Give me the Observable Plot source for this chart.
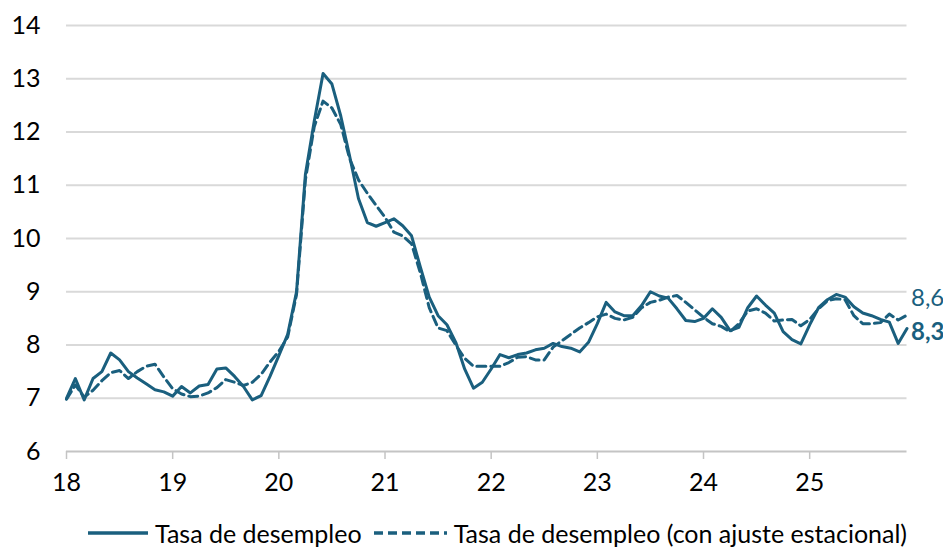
<!DOCTYPE html>
<html>
<head>
<meta charset="utf-8">
<script src="https://cdn.jsdelivr.net/npm/d3@7"></script>
<script src="https://cdn.jsdelivr.net/npm/@observablehq/plot@0.6"></script>
<style>
  html, body { margin: 0; padding: 0; background: #fff; }
  body { width: 943px; height: 550px; position: relative; overflow: hidden; font-family: Lato, "Open Sans", sans-serif; }
  #chart { position: absolute; left: 0; top: 0; }
  #legend { position: absolute; left: 26px; top: 519px; width: 943px; height: 28px; line-height: 28px; display: flex; justify-content: center; align-items: center; font-size: 25px; color: #000; white-space: nowrap; }
  #legend .item { display: flex; align-items: center; }
  #legend svg { margin-right: 7px; }
  #legend .item + .item { margin-left: 12px; }
</style>
</head>
<body>
<div id="chart"></div>
<div id="legend"></div>
<script>
// Monthly series, Jan 2018 (18) to Dec 2025
const startYear = 18;
const seriesNames = ["Tasa de desempleo", "Tasa de desempleo (con ajuste estacional)"];
const desempleo = [
  7.00, 7.37, 6.97, 7.37, 7.50, 7.85, 7.72, 7.50, 7.38, 7.27, 7.16, 7.12,
  7.04, 7.22, 7.10, 7.23, 7.26, 7.55, 7.57, 7.41, 7.22, 6.97, 7.05, 7.41,
  7.80, 8.20, 9.00, 11.20, 12.20, 13.10, 12.90, 12.30, 11.55, 10.75, 10.30, 10.23,
  10.30, 10.37, 10.24, 10.05, 9.46, 8.90, 8.55, 8.38, 8.05, 7.55, 7.19, 7.30,
  7.55, 7.82, 7.76, 7.82, 7.85, 7.91, 7.94, 8.03, 7.97, 7.94, 7.87, 8.05,
  8.40, 8.80, 8.62, 8.55, 8.55, 8.74, 9.00, 8.92, 8.88, 8.68, 8.46, 8.44,
  8.50, 8.68, 8.52, 8.27, 8.33, 8.70, 8.92, 8.75, 8.60, 8.25, 8.10, 8.02,
  8.38, 8.70, 8.85, 8.95, 8.90, 8.72, 8.60, 8.55, 8.48, 8.43, 8.03, 8.31
];
const desempleoSA = [
  6.98, 7.25, 7.02, 7.15, 7.33, 7.48, 7.52, 7.37, 7.50, 7.60, 7.64, 7.40,
  7.18, 7.08, 7.03, 7.04, 7.10, 7.20, 7.35, 7.30, 7.24, 7.30, 7.45, 7.68,
  7.88, 8.15, 8.95, 11.10, 12.10, 12.58, 12.45, 12.14, 11.50, 11.10, 10.85, 10.62,
  10.40, 10.12, 10.05, 9.90, 9.35, 8.70, 8.32, 8.27, 8.00, 7.75, 7.60, 7.60,
  7.60, 7.60, 7.67, 7.77, 7.78, 7.72, 7.72, 7.96, 8.08, 8.20, 8.32, 8.42,
  8.53, 8.58, 8.50, 8.47, 8.52, 8.70, 8.80, 8.84, 8.90, 8.93, 8.80, 8.66,
  8.52, 8.40, 8.35, 8.25, 8.40, 8.64, 8.68, 8.60, 8.45, 8.47, 8.48, 8.36,
  8.48, 8.68, 8.83, 8.87, 8.85, 8.55, 8.40, 8.40, 8.42, 8.58, 8.47, 8.56
];
const yTicks = [6, 7, 8, 9, 10, 11, 12, 13, 14];
const xTicks = [18, 19, 20, 21, 22, 23, 24, 25];
const lastLabels = ["8,3", "8,6"];

const color = "#1a5f7e";
const t = desempleo.map((_, i) => startYear + i / 12);
const solid = desempleo.map((v, i) => ({t: t[i], v}));
const dashed = desempleoSA.map((v, i) => ({t: t[i], v}));
const lastIdx = desempleo.length - 1;

const chart = Plot.plot({
  width: 943,
  height: 505,
  marginLeft: 66,
  marginRight: 36.5,
  marginTop: 25,
  marginBottom: 54,
  style: {fontFamily: "Lato, 'Open Sans', sans-serif", fontSize: "25px", background: "#fff", color: "#000", overflow: "visible"},
  x: {domain: [startYear, t[lastIdx]]},
  y: {domain: [6, 14]},
  marks: [
    Plot.gridY(yTicks.filter(d => d > 6), {stroke: "#d9d9d9", strokeOpacity: 1, strokeWidth: 2}),
    Plot.ruleY([6], {stroke: "#c4c4c4", strokeWidth: 2}),
    Plot.axisY({ticks: yTicks, tickSize: 0, tickPadding: 26, fill: "#000", fontSize: 25, label: null}),
    Plot.axisX({ticks: xTicks, tickSize: 8, tickPadding: 14, stroke: "#c4c4c4", strokeWidth: 1.5, fill: "#000", fontSize: 25, tickFormat: d => String(d), label: null}),
    Plot.lineY(dashed, {x: "t", y: "v", stroke: color, strokeWidth: 3, strokeDasharray: "9,5"}),
    Plot.lineY(solid, {x: "t", y: "v", stroke: color, strokeWidth: 3}),
    Plot.text([dashed[lastIdx]], {x: "t", y: "v", text: () => lastLabels[1], textAnchor: "start", dx: 4, dy: -17, fill: color, fontSize: 24}),
    Plot.text([solid[lastIdx]], {x: "t", y: "v", text: () => lastLabels[0], textAnchor: "start", dx: 4, dy: 4, fill: color, fontSize: 24, fontWeight: "bold"})
  ]
});
document.getElementById("chart").appendChild(chart);

// Legend
const legend = document.getElementById("legend");
const samples = [{w: 60, dash: null}, {w: 73, dash: "9,5"}];
seriesNames.forEach((name, k) => {
  const item = document.createElement("div");
  item.className = "item";
  const s = d3.create("svg").attr("width", samples[k].w).attr("height", 10);
  s.append("line").attr("x1", 0).attr("x2", samples[k].w).attr("y1", 5).attr("y2", 5)
    .attr("stroke", color).attr("stroke-width", 3.5)
    .attr("stroke-dasharray", samples[k].dash);
  item.appendChild(s.node());
  const span = document.createElement("span");
  span.textContent = name;
  item.appendChild(span);
  legend.appendChild(item);
});
</script>
</body>
</html>
